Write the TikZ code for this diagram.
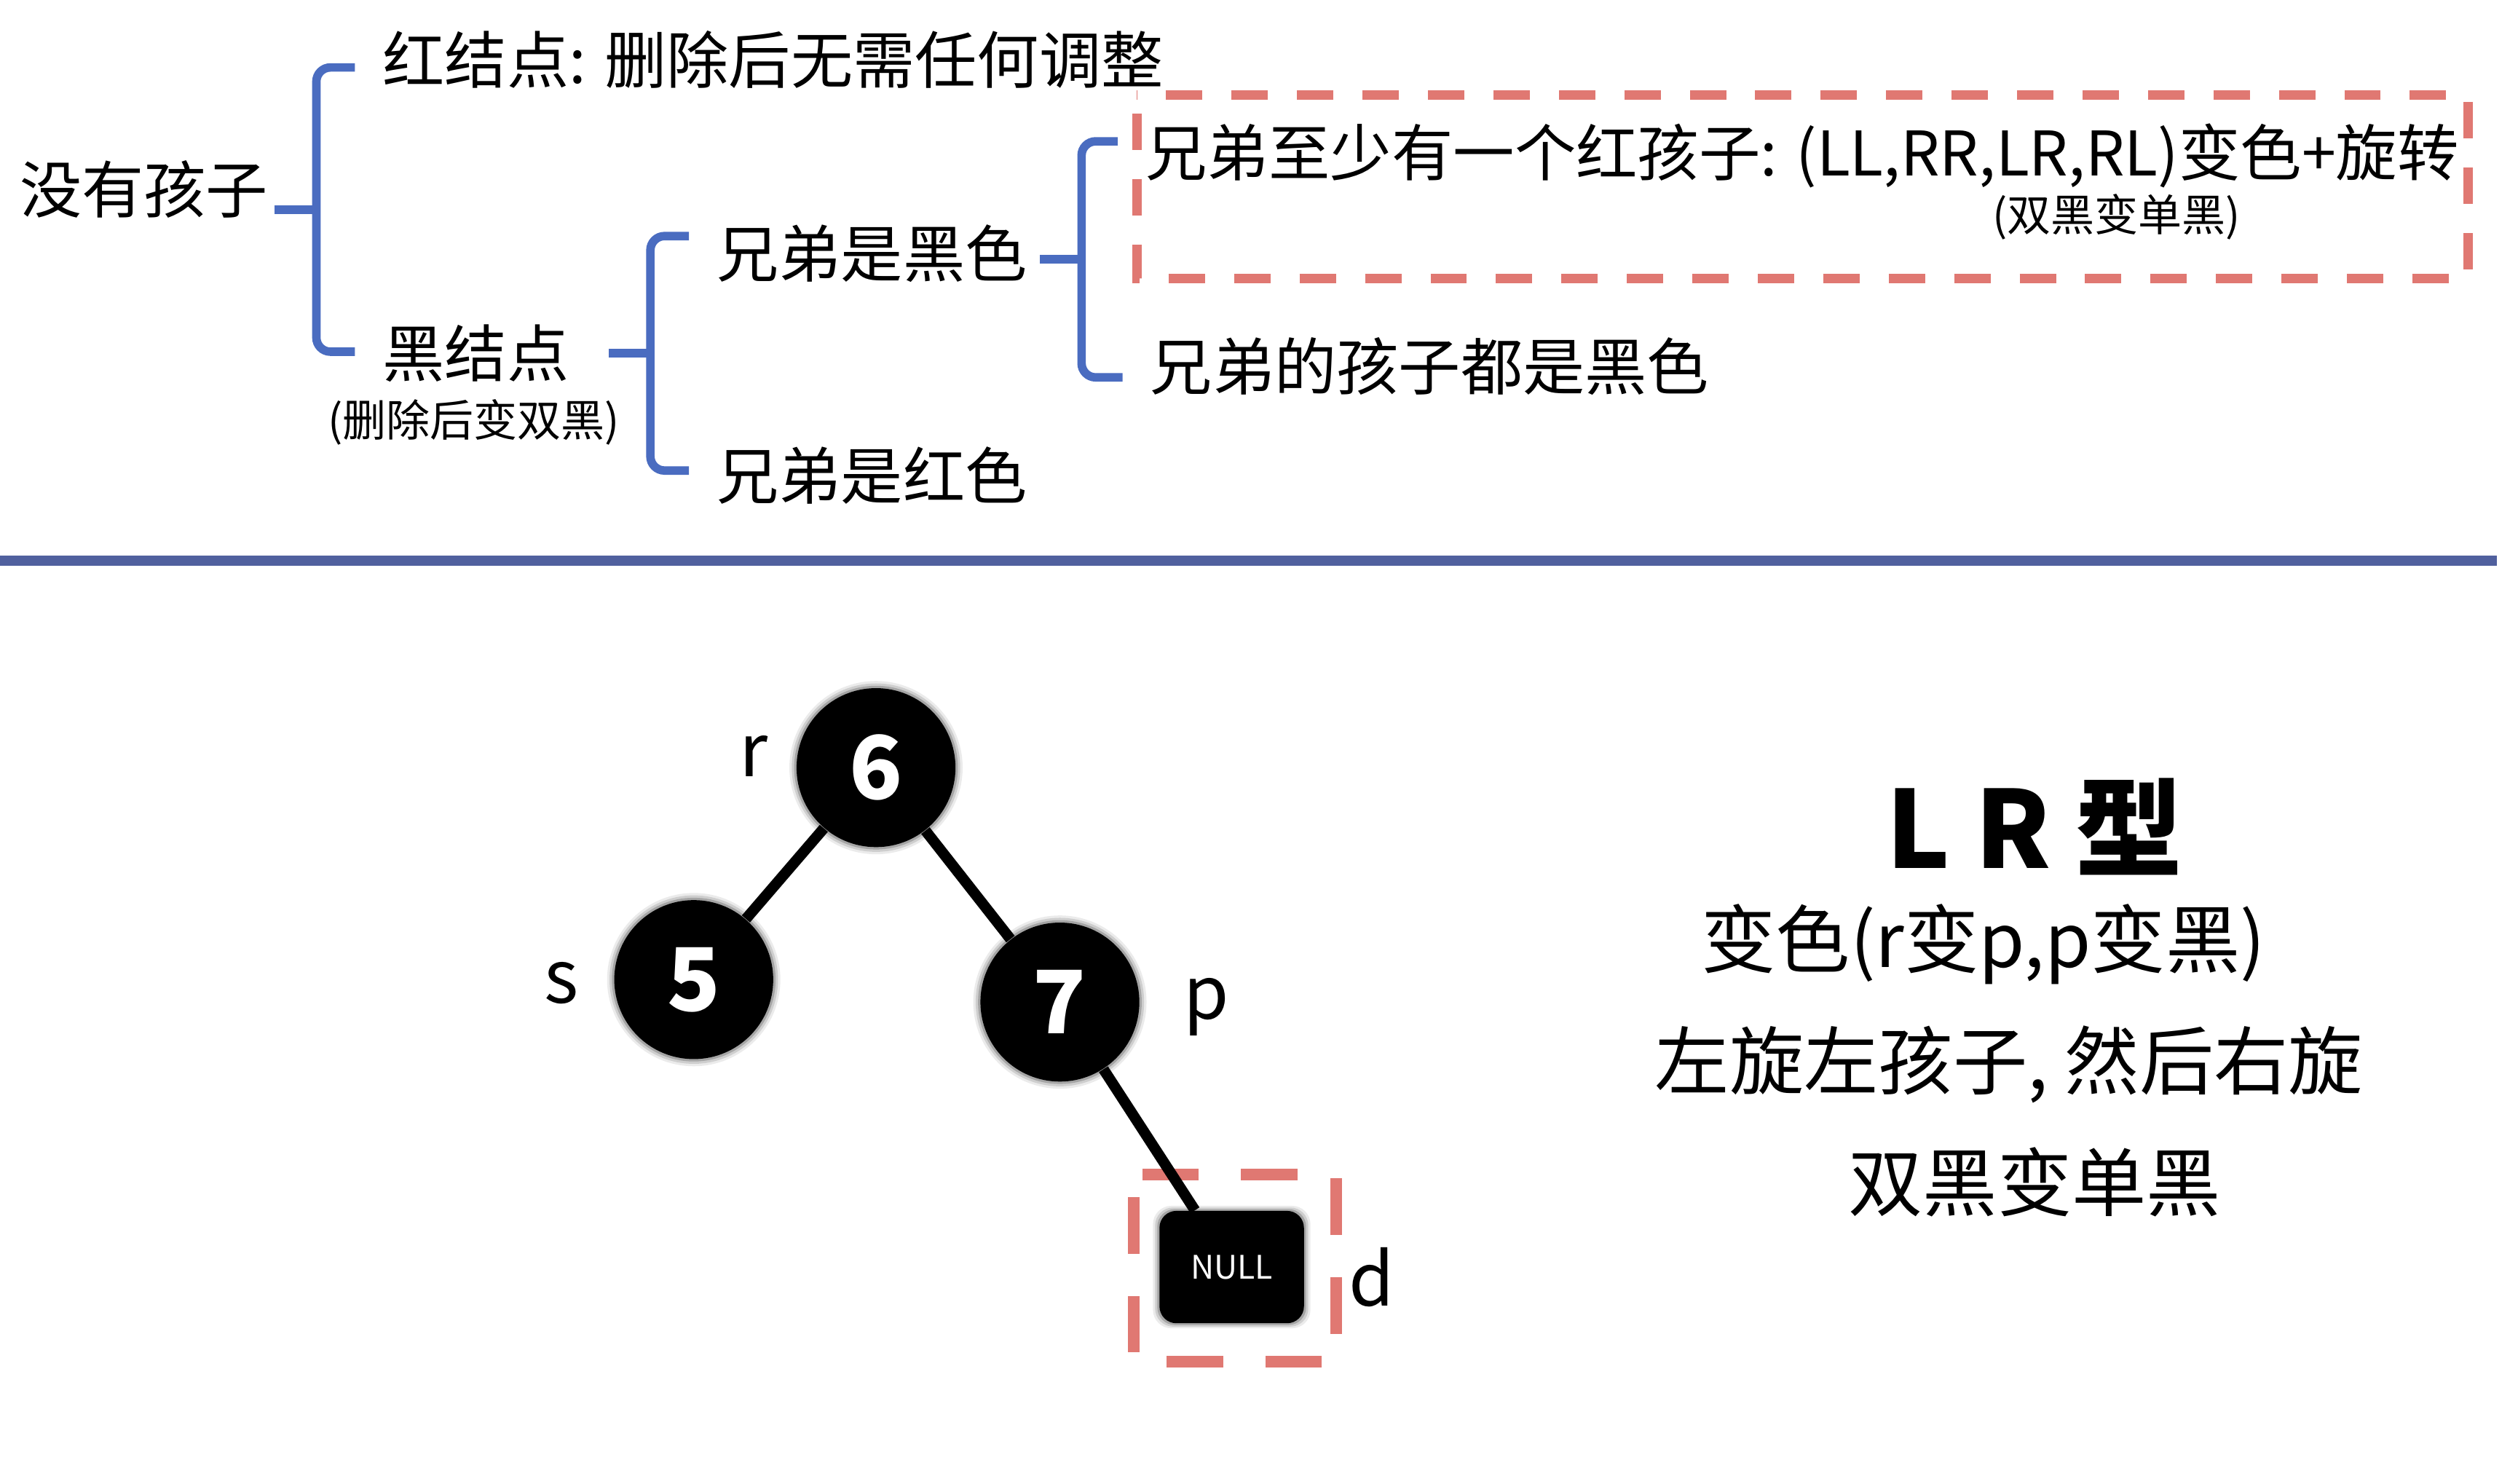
\documentclass[tikz,border=0pt]{standalone}
\usepackage{fontspec}
\setmainfont{Noto Sans CJK SC}
\usetikzlibrary{calc,shadows}
\definecolor{braceblue}{RGB}{74,108,192}
\definecolor{lineblue}{RGB}{80,96,158}
\definecolor{dashred}{RGB}{224,120,114}
\begin{document}
\begin{tikzpicture}
[x=0.02cm, y=-0.02cm,
  textdecorate/.style={inner sep=0pt, font=\fontsize{22}{26}\selectfont},
  notedecorate/.style={inner sep=0pt, font=\fontsize{15.5}{18}\selectfont},
  ruledecorate/.style={inner sep=0pt, font=\fontsize{26.4}{30}\selectfont},
  labeldecorate/.style={inner sep=0pt, font=\fontsize{26}{30}\selectfont},
  softshadow/.style={
    general shadow={shadow scale=1.09, fill=black, opacity=.08},
    general shadow={shadow scale=1.06, fill=black, opacity=.12},
    general shadow={shadow scale=1.03, fill=black, opacity=.2}},
  nodedecorate/.style={shape=circle, minimum size=1.98cm, inner sep=0pt,
    fill=black, text=white, font=\bfseries\fontsize{31}{31}\selectfont, softshadow},
  nulldecorate/.style={shape=rectangle, rounded corners=6pt, minimum width=1.8cm,
    minimum height=1.4cm, inner sep=0pt, fill=black, text=white,
    font=\fontsize{11.5}{12}\selectfont, softshadow},
  linedecorate/.style={-, line width=3.8pt},
  bracedecorate/.style={draw=braceblue, line width=3pt, rounded corners=5pt},
  dashdecorate/.style={draw=dashred, line width=3.4pt,
    dash pattern=on 12.9pt off 10.3pt, dash phase=16.4pt}]
\useasboundingbox (0,0) rectangle (1568,924);
%% case tree
\node (nokids) at (12,118) [textdecorate, anchor=west] {没有孩子};
\node (red) at (238,37) [textdecorate, anchor=west] {红结点: 删除后无需任何调整};
\node (black) at (238,220) [textdecorate, anchor=west] {黑结点};
\node (blacknote) at (295,263) [notedecorate] {(删除后变双黑)};
\node (sibblack) at (446,158) [textdecorate, anchor=west] {兄弟是黑色};
\node (sibred) at (446,296) [textdecorate, anchor=west] {兄弟是红色};
\node (redkid) at (713,97) [textdecorate, anchor=west, font=\fontsize{21.8}{26}\selectfont] {兄弟至少有一个红孩子: (LL,RR,LR,RL)变色+旋转};
\node (twoblack) at (1318,135) [notedecorate] {(双黑变单黑)};
\node (blackkids) at (716,228) [textdecorate, anchor=west] {兄弟的孩子都是黑色};
%% braces
\foreach \upper/\lower/\du/\dl in {red/black/5/-1, sibblack/sibred/-11/-3, redkid/blackkids/-9/7} {
  \draw[bracedecorate] ($(\upper.west)+(-17,\du)$)
    -| ($(\upper.west)!.5!(\lower.west)+(-41,{(\du+\dl)/2})$)
    |- ($(\lower.west)+(-17,\dl)$);
  \draw[bracedecorate] ($(\upper.west)!.5!(\lower.west)+(-41,{(\du+\dl)/2})$) -- ++(-26,0);
}
\draw[dashdecorate] (708,59) rectangle (1537,173.5);
%% separator
\draw[line width=3.7pt, lineblue] (0,349) -- (1555,349);
%% tree
\draw[dashdecorate, line width=4.2pt, dash pattern=on 20pt off 15pt, dash phase=27pt]
  (706,731.5) rectangle (832,848);
\foreach \nodename/\num/\x/\y in {six/6/545.5/478, five/5/432/610, seven/7/660/624} {
  \node (\nodename) at (\x,\y) [nodedecorate] {\num};
}
\node (null) at (767,789) [nulldecorate] {NULL};
\path
\foreach \startnode/\endnode in {six/five, six/seven, seven/null} {
  (\startnode) edge[linedecorate] (\endnode)
};
%% labels
\node (rlabel) at (469.5,471) [labeldecorate] {r};
\node (slabel) at (349.5,612) [labeldecorate] {s};
\node (plabel) at (751,627) [labeldecorate] {p};
\node (dlabel) at (854,795.5) [labeldecorate] {d};
%% rules
\node (title) at (1267,515) [inner sep=0pt, font=\bfseries\fontsize{38}{40}\selectfont] {L R 型};
\node (recolor) at (1235,588) [ruledecorate] {变色(r变p,p变黑)};
\node (rotate) at (1251,663) [ruledecorate] {左旋左孩子, 然后右旋};
\node (single) at (1267,736) [ruledecorate] {双黑变单黑};
\end{tikzpicture}
\end{document}
